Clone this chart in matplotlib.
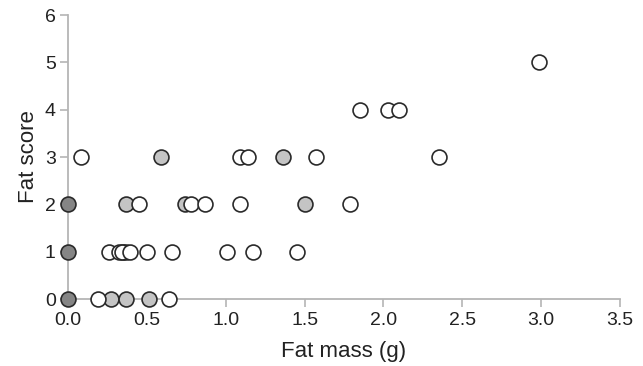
import matplotlib
matplotlib.use("Agg")
import matplotlib.pyplot as plt

plt.rcParams['font.family'] = ['Liberation Sans', 'DejaVu Sans']

# open circles
white_x = [0.19, 0.64,
           0.26, 0.32, 0.34, 0.39, 0.50, 0.66, 1.01, 1.17, 1.45,
           0.45, 0.78, 0.87, 1.09, 1.79,
           0.08, 1.09, 1.14, 1.57, 2.35,
           1.85, 2.03, 2.10,
           2.99]
white_y = [0, 0,
           1, 1, 1, 1, 1, 1, 1, 1, 1,
           2, 2, 2, 2, 2,
           3, 3, 3, 3, 3,
           4, 4, 4,
           5]

# light grey circles
light_x = [0.27, 0.37, 0.51, 0.35, 0.37, 0.37, 0.74, 1.50, 0.59, 1.36]
light_y = [0, 0, 0, 1, 1, 2, 2, 2, 3, 3]

# dark grey circles
dark_x = [0.0, 0.0, 0.0]
dark_y = [0, 1, 2]

fig = plt.figure(figsize=(6.43, 3.66), dpi=100)
ax = fig.add_axes([0.106, 0.183, 0.858, 0.776])

kw = dict(s=115, edgecolors='#2a2a2a', linewidths=1.2, clip_on=False, zorder=3)
ax.scatter(light_x, light_y, c='#c4c4c4', **kw)
ax.scatter(white_x, white_y, c='white', **kw)
ax.scatter(dark_x, dark_y, c='#858585', **kw)

ax.set_xlim(0, 3.5)
ax.set_ylim(0, 6)
ax.set_xticks([0, 0.5, 1, 1.5, 2, 2.5, 3, 3.5])
ax.set_xticklabels(['0.0', '0.5', '1.0', '1.5', '2.0', '2.5', '3.0', '3.5'])
ax.set_yticks(range(7))

for s in ['top', 'right']:
    ax.spines[s].set_visible(False)
for s in ['left', 'bottom']:
    ax.spines[s].set_color('#b5b5b5')
    ax.spines[s].set_linewidth(1.3)
ax.tick_params(colors='#b5b5b5', labelcolor='#222222', labelsize=14,
               length=6, width=1.2, pad=3)

ax.set_xlabel('Fat mass (g)', fontsize=16, color='#222222', labelpad=9)
ax.set_ylabel('Fat score', fontsize=16, color='#222222', labelpad=4)

fig.savefig('out.png', dpi=100)
